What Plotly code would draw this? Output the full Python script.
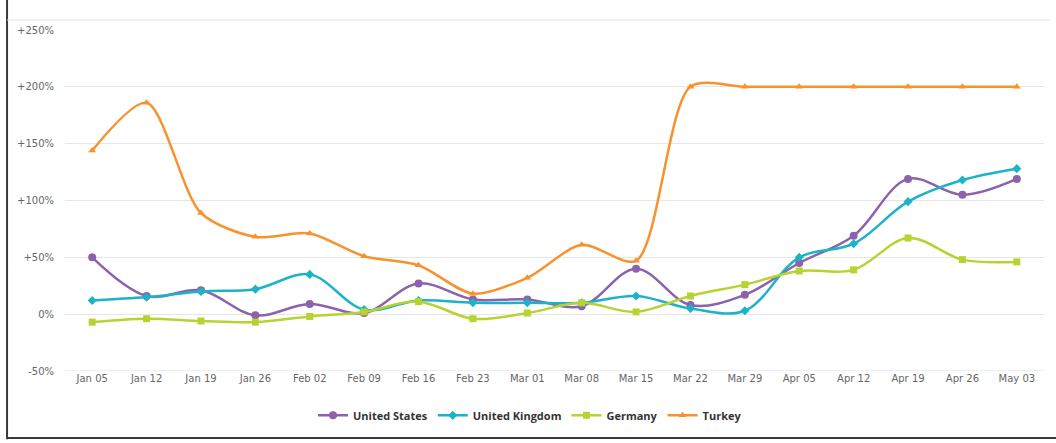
import plotly.graph_objects as go

weeks = ["Jan 05", "Jan 12", "Jan 19", "Jan 26", "Feb 02", "Feb 09", "Feb 16", "Feb 23",
         "Mar 01", "Mar 08", "Mar 15", "Mar 22", "Mar 29", "Apr 05", "Apr 12", "Apr 19",
         "Apr 26", "May 03"]

united_states = [50, 16, 21, -1, 9, 1, 27, 13, 13, 7, 40, 8, 17, 45, 69, 119, 105, 119]
united_kingdom = [12, 15, 20, 22, 35, 4, 12, 10, 10, 10, 16, 5, 3, 50, 62, 99, 118, 128]
germany = [-7, -4, -6, -7, -2, 2, 11, -4, 1, 10, 2, 16, 26, 38, 39, 67, 48, 46]
turkey = [144, 186, 89, 68, 71, 51, 43, 18, 32, 61, 47, 200, 200, 200, 200, 200, 200, 200]

y_ticks = [-50, 0, 50, 100, 150, 200, 250]
y_tick_labels = ["-50%", "0%", "+50%", "+100%", "+150%", "+200%", "+250%"]

series = [
    ("United States", united_states, "#8b62ab", "circle", 8, 1.0),
    ("United Kingdom", united_kingdom, "#1cb3c8", "diamond", 7, 1.0),
    ("Germany", germany, "#b7d332", "square", 7, 1.0),
    ("Turkey", turkey, "#f7922f", "triangle-up", 7, 0.8),
]

fig = go.Figure()
x_idx = list(range(len(weeks)))
for name, vals, color, symbol, size, smooth in series:
    fig.add_trace(go.Scatter(
        x=x_idx, y=vals, name=name, mode="lines+markers",
        line=dict(color=color, width=2.5, shape="spline", smoothing=smooth),
        marker=dict(color=color, symbol=symbol, size=size),
    ))

tick_font = dict(family="DejaVu Sans, sans-serif", size=10, color="#666666")

fig.update_layout(
    width=1056, height=443,
    margin=dict(l=65, r=12, t=30, b=72),
    paper_bgcolor="white", plot_bgcolor="white",
    font=dict(family="DejaVu Sans, sans-serif", color="#666666", size=10),
    showlegend=True,
    legend=dict(
        orientation="h", x=0.475, xanchor="center", y=-0.13, yanchor="middle",
        font=dict(size=11, color="#333333", family="Open Sans, sans-serif", weight="bold"),
        itemwidth=30, traceorder="normal",
    ),
    xaxis=dict(
        range=[-0.5, 17.5], tickmode="array", tickvals=x_idx, ticktext=weeks,
        showgrid=False, zeroline=False, showline=False, ticks="",
        tickfont=tick_font, fixedrange=True,
    ),
    yaxis=dict(
        range=[-50, 250], tickmode="array", tickvals=y_ticks, ticktext=y_tick_labels,
        showgrid=True, gridcolor="#e6e6e6", gridwidth=1, zeroline=False,
        showline=False, ticks="", ticklabelstandoff=10,
        tickfont=tick_font,
    ),
    shapes=[
        # frame: dark left and bottom edges, faint top rule
        dict(type="line", xref="paper", yref="paper", x0=-0.0592, x1=-0.0592, y0=-0.20, y1=1.10,
             line=dict(color="#3a3a3a", width=2)),
        dict(type="line", xref="paper", yref="paper", x0=-0.0592, x1=1.02, y0=-0.1965, y1=-0.1965,
             line=dict(color="#3a3a3a", width=2)),
        dict(type="line", xref="paper", yref="paper", x0=-0.0592, x1=1.006, y0=1.0293, y1=1.0293,
             line=dict(color="#e4e4e4", width=1)),
        dict(type="line", xref="paper", yref="y", x0=0, x1=1, y0=-50, y1=-50,
             line=dict(color="#d6dcea", width=1)),
    ],
)

fig.write_html("out.html")
